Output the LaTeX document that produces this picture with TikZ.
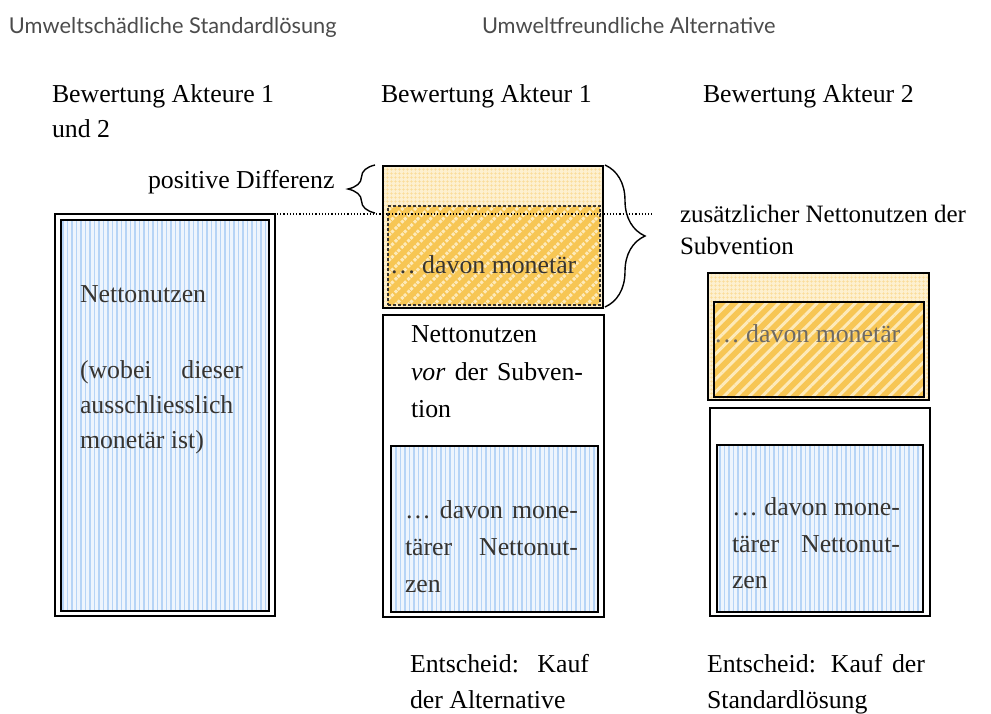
\documentclass[tikz,border=0pt]{standalone}
\usepackage{fontspec}
\setmainfont{Liberation Serif}
\newfontfamily\hdrfont{Lato}
\usetikzlibrary{patterns.meta,decorations.pathreplacing}
\definecolor{bluebg}{RGB}{238,245,253}
\definecolor{bluestripe}{RGB}{182,212,246}
\definecolor{orlightbg}{RGB}{253,240,208}
\definecolor{orlightgrid}{RGB}{250,220,150}
\definecolor{orbg}{RGB}{247,198,84}
\definecolor{orstripe}{RGB}{253,234,186}
\definecolor{txtdark}{RGB}{55,52,48}
\definecolor{txtgray}{RGB}{110,106,100}
\definecolor{hdrgray}{RGB}{75,75,75}
\newcommand{\jline}[2]{\makebox[#1][s]{#2}}
\begin{document}
\begin{tikzpicture}[x=1pt,y=-1pt,
  every node/.style={inner sep=0pt, outer sep=0pt},
  txt/.style={anchor=base west, font=\fontsize{25.8}{30}\selectfont},
  txtsmall/.style={anchor=base west, font=\fontsize{25}{30}\selectfont},
  hdr/.style={anchor=base west, font=\hdrfont\fontsize{21.8}{26}\selectfont, text=hdrgray},
  boxouter/.style={draw=black, line width=1.8pt, rectangle, anchor=north west},
  boxthin/.style={draw=black, line width=1.2pt, rectangle, anchor=north west},
  bluefill/.style={preaction={fill=bluebg}, pattern={Lines[angle=90,distance=4.5pt,line width=1.4pt]}, pattern color=bluestripe},
  orlight/.style={preaction={fill=orlightbg}, pattern={Hatch[angle=0,distance=4pt,line width=0.7pt]}, pattern color=orlightgrid},
  orhatch/.style={preaction={fill=orbg}, pattern={Lines[angle=45,distance=9pt,line width=3pt]}, pattern color=orstripe},
  bracestyle/.style={draw=black, line width=1.4pt, decorate}
]
\useasboundingbox (0,0) rectangle (991,713);

% headers
\node[hdr] (h1) at (9,33) {Umweltschädliche Standardlösung};
\node[hdr] (h2) at (482,33) {Umweltfreundliche Alternative};

% column titles
\node[txt] (b1a) at (52,102) {Bewertung Akteure 1};
\node[txt] (b1b) at (52,137) {und 2};
\node[txt] (b2) at (381,102) {Bewertung Akteur 1};
\node[txt] (b3) at (703,102) {Bewertung Akteur 2};

% left box
\node[boxthin, minimum width=220pt, minimum height=402pt] (lo) at (55,214) {};
\node[boxouter, bluefill, minimum width=208pt, minimum height=391pt] (li) at (61,220) {};
\node[txt, text=txtdark] (l1) at (80,302) {Nettonutzen};
\node[txt, text=txtdark] (l2) at (80,378) {\jline{163pt}{(wobei dieser}};
\node[txt, text=txtdark] (l3) at (80,413) {ausschliesslich};
\node[txt, text=txtdark] (l4) at (80,448) {monetär ist)};

% middle top (orange)
\node[boxouter, orlight, minimum width=220pt, minimum height=142pt] (mt) at (383,166) {};
\node[draw=txtdark, dotted, line width=1.4pt, orhatch, rectangle, anchor=north west, minimum width=212pt, minimum height=99pt] (mti) at (388,206) {};
\node[txt, text=txtdark] (m1) at (390,273) {… davon monetär};

% middle bottom
\node[boxouter, fill=white, minimum width=221pt, minimum height=302pt] (mb) at (383,315) {};
\node[txt] (m2) at (411,342) {Nettonutzen};
\node[txt] (m3) at (411,380) {\jline{172pt}{\textit{vor} der Subven-}};
\node[txt] (m4) at (411,417) {tion};
\node[boxouter, bluefill, minimum width=207pt, minimum height=166pt] (mbi) at (391,446) {};
\node[txt, text=txtdark] (m5) at (405,518) {\jline{173pt}{… davon mone-}};
\node[txt, text=txtdark] (m6) at (405,555) {\jline{173pt}{tärer Nettonut-}};
\node[txt, text=txtdark] (m7) at (405,592) {zen};

% right top (orange)
\node[boxouter, orlight, minimum width=221pt, minimum height=127pt] (rt) at (708,273) {};
\node[boxouter, orhatch, minimum width=210pt, minimum height=95pt] (rti) at (714,302) {};
\node[txt, text=txtgray] (r1) at (714,342) {… davon monetär};

% right bottom
\node[boxouter, fill=white, minimum width=220pt, minimum height=208pt] (rb) at (710,408) {};
\node[boxouter, bluefill, minimum width=206pt, minimum height=167pt] (rbi) at (717,445) {};
\node[txt, text=txtdark] (r2) at (732,515) {\jline{168pt}{… davon mone-}};
\node[txt, text=txtdark] (r3) at (732,552) {\jline{168pt}{tärer Nettonut-}};
\node[txt, text=txtdark] (r4) at (732,588) {zen};

% labels
\node[txt] (pd) at (148,188) {positive Differenz};
\node[txtsmall] (zn1) at (680,222) {zusätzlicher Nettonutzen der};
\node[txtsmall] (zn2) at (680,254) {Subvention};

% bottom decisions
\node[txt] (e1) at (410,672) {\jline{179pt}{Entscheid: Kauf}};
\node[txt] (e2) at (410,708) {der Alternative};
\node[txt] (e3) at (707,672) {\jline{218pt}{Entscheid: Kauf der}};
\node[txt] (e4) at (707,708) {Standardlösung};

% braces
\coordinate (lbB) at (375,213);
\coordinate (lbT) at (375,165);
\draw[bracestyle, decoration={brace, amplitude=27pt}] (lbB) -- (lbT);
\coordinate (rbT) at (605,165);
\coordinate (rbB) at (605,307);
\draw[bracestyle, decoration={brace, amplitude=40pt}] (rbT) -- (rbB);

% dotted reference line
\coordinate (dl) at (277,214);
\coordinate (dr) at (652,214);
\draw[dotted, line width=1.2pt] (dl) -- (dr);
\end{tikzpicture}
\end{document}
